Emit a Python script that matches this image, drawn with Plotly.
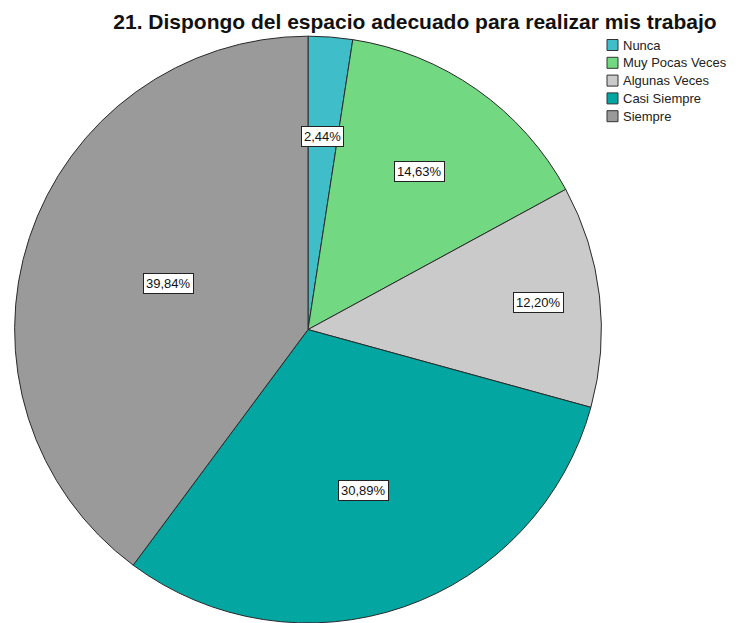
import math
import plotly.graph_objects as go

# Response categories and their share of answers (%)
categories = ["Nunca", "Muy Pocas Veces", "Algunas Veces", "Casi Siempre", "Siempre"]
percentages = [2.44, 14.63, 12.20, 30.89, 39.84]
title_text = "21. Dispongo del espacio adecuado para realizar mis trabajo"

colors = ["#3fbec9", "#72d982", "#cacaca", "#03a6a1", "#9a9a9a"]
# radial placement of each value box, as a fraction of the pie radius
label_radius = [0.66, 0.66, 0.79, 0.58, 0.50]

W, H = 738, 623
FONT = "Liberation Sans, Arial, sans-serif"
dom_x = [0.0198, 0.8149]
dom_y = [0.0, 0.942]

fig = go.Figure(
    go.Pie(
        labels=categories,
        values=percentages,
        sort=False,
        direction="clockwise",
        rotation=0,
        marker=dict(colors=colors, line=dict(color="#2a2a2a", width=1)),
        textinfo="none",
        hoverinfo="label+percent",
        domain=dict(x=dom_x, y=dom_y),
        showlegend=False,
    )
)

# value boxes placed at the middle angle of each slice
cx = (dom_x[0] + dom_x[1]) / 2 * W
cy = (dom_y[0] + dom_y[1]) / 2 * H
radius = min((dom_x[1] - dom_x[0]) * W, (dom_y[1] - dom_y[0]) * H) / 2
total = sum(percentages)
cum = 0.0
for val, frac in zip(percentages, label_radius):
    mid = (cum + val / 2) / total * 2 * math.pi
    cum += val
    px = cx + frac * radius * math.sin(mid)
    py = cy + frac * radius * math.cos(mid)
    fig.add_annotation(
        x=px / W, y=py / H, xref="paper", yref="paper",
        xanchor="center", yanchor="middle",
        text=f"{val:.2f}%".replace(".", ","),
        showarrow=False,
        font=dict(family=FONT, size=13, color="#111"),
        bgcolor="white", bordercolor="#222", borderwidth=1, borderpad=2,
    )

# compact legend: small square swatch followed by the category name
leg_x, leg_y0, leg_step, sw = 607, 45, 17.8, 11
for i, (cat, col) in enumerate(zip(categories, colors)):
    yc = leg_y0 + i * leg_step
    fig.add_shape(
        type="rect", xref="paper", yref="paper",
        x0=leg_x / W, x1=(leg_x + sw) / W,
        y0=1 - (yc + sw / 2) / H, y1=1 - (yc - sw / 2) / H,
        fillcolor=col, line=dict(color="#333", width=1),
    )
    fig.add_annotation(
        x=(leg_x + sw + 3) / W, y=1 - yc / H, xref="paper", yref="paper",
        xanchor="left", yanchor="middle", showarrow=False,
        text=cat, font=dict(family=FONT, size=13, color="#222"),
    )

fig.update_layout(
    width=W, height=H,
    margin=dict(l=0, r=0, t=0, b=0),
    paper_bgcolor="white",
    showlegend=False,
    title=dict(
        text=f"<b>{title_text}</b>",
        x=415 / W, xanchor="center", y=1 - 22 / H, yanchor="middle",
        font=dict(family=FONT, size=21, color="#111"),
    ),
)

fig.write_html("out.html")
